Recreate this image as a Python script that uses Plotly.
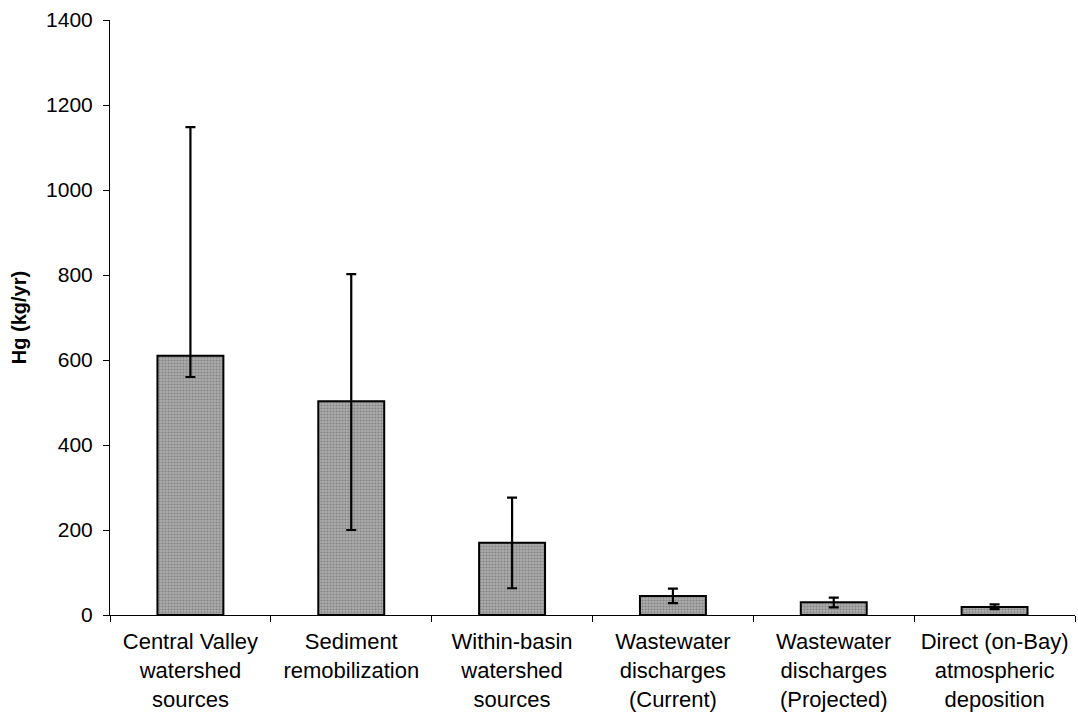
import plotly.graph_objects as go

categories = [
    "Central Valley<br>watershed<br>sources",
    "Sediment<br>remobilization",
    "Within-basin<br>watershed<br>sources",
    "Wastewater<br>discharges<br>(Current)",
    "Wastewater<br>discharges<br>(Projected)",
    "Direct (on-Bay)<br>atmospheric<br>deposition",
]
values = [610, 503, 170, 45, 30, 19]
err_upper = [1148, 802, 276, 62, 41, 25]
err_lower = [560, 200, 63, 28, 18, 14]

plus = [u - v for u, v in zip(err_upper, values)]
minus = [v - l for v, l in zip(values, err_lower)]

fig = go.Figure()
fig.add_trace(go.Bar(
    x=categories,
    y=values,
    width=0.41,
    marker=dict(
        color="#a0a0a0",
        line=dict(color="black", width=2),
        pattern=dict(shape=".", fgcolor="#5a5a5a", bgcolor="#acacac", size=3, solidity=0.4),
    ),
    error_y=dict(
        type="data",
        symmetric=False,
        array=plus,
        arrayminus=minus,
        color="black",
        thickness=2.2,
        width=5,
    ),
))

fig.update_layout(
    width=1078,
    height=714,
    margin=dict(l=110, r=3, t=20, b=99),
    paper_bgcolor="white",
    plot_bgcolor="white",
    font=dict(family="Liberation Sans, Arial, sans-serif", size=21, color="black"),
    showlegend=False,
)
fig.update_yaxes(
    range=[0, 1400],
    dtick=200,
    showgrid=False,
    zeroline=False,
    showline=True,
    linecolor="black",
    linewidth=1,
    ticks="outside",
    ticklen=6,
    tickcolor="black",
    ticklabelstandoff=6,
    tickfont=dict(size=21),
    title=dict(text="<b>Hg (kg/yr)</b>", font=dict(size=20), standoff=14),
)
fig.update_xaxes(
    showgrid=False,
    showline=True,
    linecolor="black",
    linewidth=1,
    ticks="outside",
    tickson="boundaries",
    ticklen=6,
    tickcolor="black",
    ticklabelstandoff=7,
    tickfont=dict(size=22),
)

fig.write_html("out.html")
